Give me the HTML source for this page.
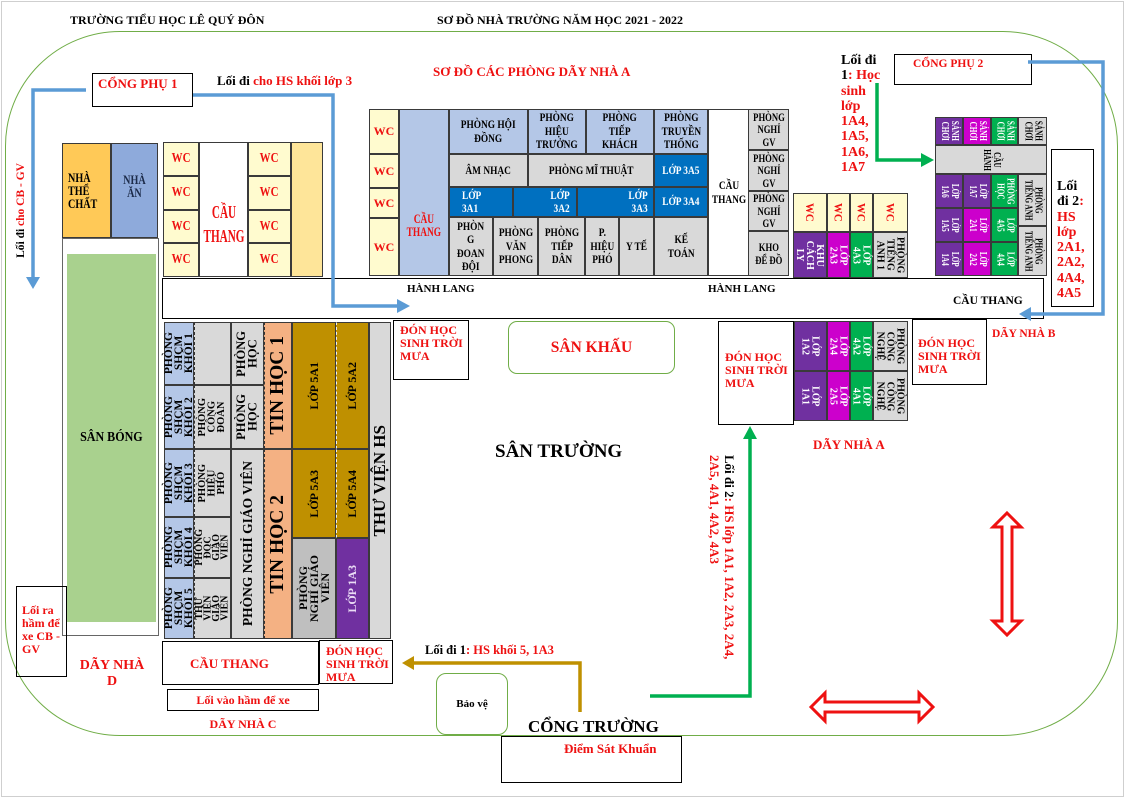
<!DOCTYPE html>
<html><head><meta charset="utf-8">
<style>
body{margin:0;background:#fff}
#p{position:relative;width:1125px;height:798px;overflow:hidden;background:#fff;font-family:"Liberation Serif","DejaVu Serif",serif;font-weight:bold;color:#000}
.b{position:absolute;box-sizing:border-box;border:1px solid #3a3a3a;display:flex;align-items:center;justify-content:center;text-align:center;white-space:nowrap}
.k{border-color:#000}
.t{position:absolute;white-space:nowrap;line-height:1}
.r{color:#ee1111}
.ly{background:#fffbcf}
.lb{background:#b4c7e7}
.g{background:#d9d9d9}
.bl{background:#0070c0;color:#fff}
.pu{background:#7030a0;color:#fff}
.mg{background:#cc00cc;color:#fff}
.gn{background:#00b050;color:#fff}
.go{background:#bf9000}
.sa{background:#f4b183}
.a{font-size:12px;line-height:13.5px}
.cx{display:inline-block;transform:scaleX(.78)}
.v{writing-mode:vertical-rl;font-size:11px;line-height:10px;transform:scaleY(.9)}
.vb{writing-mode:vertical-rl;font-size:10px;line-height:10px;transform:scaleY(.72)}
.u{writing-mode:vertical-rl;transform:rotate(180deg)}
</style></head><body><div id="p">

<!-- frames -->
<div style="position:absolute;left:1px;top:1px;width:1121px;height:794px;border:1px solid #cfcfcf"></div>
<div style="position:absolute;left:5px;top:31px;width:1111px;height:703px;border:1px solid #70ad47;border-radius:115px"></div>

<!-- headers -->
<div class="t" style="left:70px;top:14px;font-size:12px">TRƯỜNG TIỂU HỌC LÊ QUÝ ĐÔN</div>
<div class="t" style="left:437px;top:14px;font-size:12px">SƠ ĐỒ NHÀ TRƯỜNG NĂM HỌC 2021 - 2022</div>
<div class="t r" style="left:433px;top:65px;font-size:13px">SƠ ĐỒ CÁC PHÒNG DÃY NHÀ A</div>

<!-- cong phu 1 -->
<div class="b k" style="left:92px;top:73px;width:101px;height:34px;border-width:1.5px"></div>
<div class="t r" style="left:98px;top:77px;font-size:13px">CỔNG PHỤ 1</div>
<div class="t" style="left:217px;top:74px;font-size:13px">Lối đi <span class="r">cho HS khối lớp 3</span></div>
<div class="t u" style="left:16px;top:163px;font-size:11.5px">Lối đi <span class="r">cho CB - GV</span></div>

<!-- nha the chat / nha an -->
<div class="b" style="left:62px;top:143px;width:49px;height:95px;background:#ffc957;justify-content:flex-start;text-align:left;padding-left:5px;font-size:13px;line-height:13px"><span class="cx" style="transform-origin:left">NHÀ<br>THỂ<br>CHẤT</span></div>
<div class="b" style="left:111px;top:143px;width:47px;height:95px;background:#8eaadb;color:#1c2b4a;font-size:13px;line-height:13px;padding-bottom:10px"><span class="cx">NHÀ<br>ĂN</span></div>
<div class="b" style="left:62px;top:238px;width:97px;height:398px;border-color:#666"></div>
<div class="b" style="left:67px;top:254px;width:89px;height:368px;background:#a9d18e;border:none;font-size:14px"><span class="cx" style="transform:scaleX(.86)">SÂN BÓNG</span></div>

<!-- WC block left -->
<div class="b ly r" style="left:163px;top:142px;width:36px;height:34px;font-size:14px"><span class="cx">WC</span></div>
<div class="b ly r" style="left:163px;top:176px;width:36px;height:34px;font-size:14px"><span class="cx">WC</span></div>
<div class="b ly r" style="left:163px;top:210px;width:36px;height:33px;font-size:14px"><span class="cx">WC</span></div>
<div class="b ly r" style="left:163px;top:243px;width:36px;height:34px;font-size:14px"><span class="cx">WC</span></div>
<div class="b r" style="left:199px;top:142px;width:49px;height:135px;font-size:18px;line-height:24px;padding-top:29px"><span class="cx" style="transform:scaleX(.62)">CẦU<br>THANG</span></div>
<div class="b ly r" style="left:248px;top:142px;width:43px;height:34px;font-size:14px"><span class="cx">WC</span></div>
<div class="b ly r" style="left:248px;top:176px;width:43px;height:34px;font-size:14px"><span class="cx">WC</span></div>
<div class="b ly r" style="left:248px;top:210px;width:43px;height:33px;font-size:14px"><span class="cx">WC</span></div>
<div class="b ly r" style="left:248px;top:243px;width:43px;height:34px;font-size:14px"><span class="cx">WC</span></div>
<div class="b" style="left:291px;top:142px;width:32px;height:135px;background:#fee599"></div>

<!-- corridor -->
<div class="b k" style="left:162px;top:278px;width:882px;height:41px"></div>
<div class="t" style="left:407px;top:283.5px;font-size:11px">HÀNH LANG</div>
<div class="t" style="left:708px;top:283.5px;font-size:11px">HÀNH LANG</div>
<div class="t" style="left:953px;top:296px;font-size:11.5px">CẦU THANG</div>

<!-- building A main -->
<div class="b ly r" style="left:369px;top:109px;width:30px;height:45px;font-size:12px">WC</div>
<div class="b ly r" style="left:369px;top:154px;width:30px;height:34px;font-size:12px">WC</div>
<div class="b ly r" style="left:369px;top:188px;width:30px;height:30px;font-size:12px">WC</div>
<div class="b ly r" style="left:369px;top:218px;width:30px;height:58px;font-size:12px">WC</div>
<div class="b lb r" style="left:399px;top:109px;width:50px;height:167px;padding-top:65px;font-size:13px;line-height:13px"><span class="cx" style="transform:scaleX(.72)">CẦU<br>THANG</span></div>

<div class="b lb a" style="left:449px;top:109px;width:79px;height:45px"><span class="cx">PHÒNG HỘI<br>ĐỒNG</span></div>
<div class="b lb a" style="left:528px;top:109px;width:58px;height:45px"><span class="cx">PHÒNG<br>HIỆU<br>TRƯỞNG</span></div>
<div class="b lb a" style="left:586px;top:109px;width:68px;height:45px"><span class="cx">PHÒNG<br>TIẾP<br>KHÁCH</span></div>
<div class="b lb a" style="left:654px;top:109px;width:54px;height:45px"><span class="cx">PHÒNG<br>TRUYỀN<br>THỐNG</span></div>

<div class="b g a" style="left:449px;top:154px;width:79px;height:33px"><span class="cx">ÂM NHẠC</span></div>
<div class="b g a" style="left:528px;top:154px;width:126px;height:33px"><span class="cx">PHÒNG MĨ THUẬT</span></div>
<div class="b bl a" style="left:654px;top:154px;width:54px;height:33px"><span class="cx">LỚP 3A5</span></div>

<div class="b bl a" style="left:449px;top:187px;width:64px;height:30px;justify-content:flex-start;padding-left:12px;text-align:left"><span class="cx" style="transform-origin:left">LỚP<br>3A1</span></div>
<div class="b bl a" style="left:513px;top:187px;width:64px;height:30px;justify-content:flex-end;padding-right:6px;text-align:right"><span class="cx" style="transform-origin:right">LỚP<br>3A2</span></div>
<div class="b bl a" style="left:577px;top:187px;width:77px;height:30px;justify-content:flex-end;padding-right:5px;text-align:right"><span class="cx" style="transform-origin:right">LỚP<br>3A3</span></div>
<div class="b bl a" style="left:654px;top:187px;width:54px;height:30px"><span class="cx">LỚP 3A4</span></div>

<div class="b g a" style="left:449px;top:217px;width:44px;height:59px;line-height:13.5px"><span class="cx">PHÒN<br>G<br>ĐOAN<br>ĐỘI</span></div>
<div class="b g a" style="left:493px;top:217px;width:45px;height:59px"><span class="cx">PHÒNG<br>VĂN<br>PHONG</span></div>
<div class="b g a" style="left:538px;top:217px;width:47px;height:59px"><span class="cx">PHÒNG<br>TIẾP<br>DÂN</span></div>
<div class="b g a" style="left:585px;top:217px;width:34px;height:59px"><span class="cx">P.<br>HIỆU<br>PHÓ</span></div>
<div class="b g a" style="left:619px;top:217px;width:35px;height:59px"><span class="cx">Y TẾ</span></div>
<div class="b g a" style="left:654px;top:217px;width:54px;height:59px"><span class="cx">KẾ<br>TOÁN</span></div>

<div class="b a" style="left:708px;top:109px;width:41px;height:167px"><span class="cx">CẦU<br>THANG</span></div>
<div class="b g a" style="left:748px;top:109px;width:41px;height:41px;line-height:12.5px"><span class="cx" style="transform:scaleX(.72)">PHÒNG<br>NGHỈ<br>GV</span></div>
<div class="b g a" style="left:748px;top:150px;width:41px;height:41px;line-height:12.5px"><span class="cx" style="transform:scaleX(.72)">PHÒNG<br>NGHỈ<br>GV</span></div>
<div class="b g a" style="left:748px;top:191px;width:41px;height:40px;line-height:12.5px"><span class="cx" style="transform:scaleX(.72)">PHÒNG<br>NGHỈ<br>GV</span></div>
<div class="b g a" style="left:748px;top:231px;width:41px;height:45px;line-height:12.5px"><span class="cx" style="transform:scaleX(.72)">KHO<br>ĐỂ ĐỒ</span></div>

<!-- building A right upper -->
<div class="b ly r" style="left:793px;top:193px;width:34px;height:39px"><span class="v" style="font-size:12px">WC</span></div>
<div class="b ly r" style="left:827px;top:193px;width:23px;height:39px"><span class="v" style="font-size:12px">WC</span></div>
<div class="b ly r" style="left:850px;top:193px;width:23px;height:39px"><span class="v" style="font-size:12px">WC</span></div>
<div class="b ly r" style="left:873px;top:193px;width:35px;height:39px"><span class="v" style="font-size:12px">WC</span></div>
<div class="b pu" style="left:793px;top:232px;width:34px;height:46px"><span class="v">KHU<br>CÁCH<br>LY</span></div>
<div class="b mg" style="left:827px;top:232px;width:23px;height:46px"><span class="v">LỚP<br>2A3</span></div>
<div class="b gn" style="left:850px;top:232px;width:23px;height:46px"><span class="v">LỚP<br>4A3</span></div>
<div class="b g" style="left:873px;top:232px;width:35px;height:46px"><span class="v">PHÒNG<br>TIẾNG<br>ANH 1</span></div>

<!-- building A right lower -->
<div class="b pu" style="left:794px;top:321px;width:33px;height:50px"><span class="v">LỚP<br>1A2</span></div>
<div class="b pu" style="left:794px;top:371px;width:33px;height:50px"><span class="v">LỚP<br>1A1</span></div>
<div class="b mg" style="left:827px;top:321px;width:23px;height:50px"><span class="v">LỚP<br>2A4</span></div>
<div class="b mg" style="left:827px;top:371px;width:23px;height:50px"><span class="v">LỚP<br>2A5</span></div>
<div class="b gn" style="left:850px;top:321px;width:23px;height:50px"><span class="v">LỚP<br>4A2</span></div>
<div class="b gn" style="left:850px;top:371px;width:23px;height:50px"><span class="v">LỚP<br>4A1</span></div>
<div class="b g" style="left:873px;top:321px;width:35px;height:50px"><span class="v">PHÒNG<br>CÔNG<br>NGHỆ</span></div>
<div class="b g" style="left:873px;top:371px;width:35px;height:50px"><span class="v">PHÒNG<br>CÔNG<br>NGHỆ</span></div>

<div class="b k" style="left:718px;top:321px;width:76px;height:104px"></div>
<div class="t r" style="left:725px;top:350.5px;font-size:12px;line-height:13px">ĐÓN HỌC<br>SINH TRỜI<br>MƯA</div>
<div class="b k" style="left:912px;top:319px;width:75px;height:66px"></div>
<div class="t r" style="left:918px;top:336.5px;font-size:12px;line-height:13px">ĐÓN HỌC<br>SINH TRỜI<br>MƯA</div>
<div class="t r" style="left:992px;top:329px;font-size:11.5px">DÃY NHÀ B</div>
<div class="t r" style="left:813px;top:438px;font-size:13px">DÃY NHÀ A</div>

<!-- building B -->
<div class="b pu" style="left:935px;top:117px;width:28px;height:28px"><span class="vb">SẢNH<br>CHƠI</span></div>
<div class="b mg" style="left:963px;top:117px;width:28px;height:28px"><span class="vb">SẢNH<br>CHƠI</span></div>
<div class="b gn" style="left:991px;top:117px;width:27px;height:28px"><span class="vb">SẢNH<br>CHƠI</span></div>
<div class="b g" style="left:1018px;top:117px;width:29px;height:28px"><span class="vb">SẢNH<br>CHƠI</span></div>
<div class="b g" style="left:935px;top:145px;width:112px;height:29px"><span class="vb">CẦU<br>HÀNH</span></div>
<div class="b pu" style="left:935px;top:174px;width:28px;height:34px"><span class="vb">LỚP<br>1A6</span></div>
<div class="b pu" style="left:963px;top:174px;width:28px;height:34px"><span class="vb">LỚP<br>1A7</span></div>
<div class="b gn" style="left:991px;top:174px;width:27px;height:34px"><span class="vb">PHÒNG<br>HỌC</span></div>
<div class="b pu" style="left:935px;top:208px;width:28px;height:34px"><span class="vb">LỚP<br>1A5</span></div>
<div class="b mg" style="left:963px;top:208px;width:28px;height:34px"><span class="vb">LỚP<br>2A1</span></div>
<div class="b gn" style="left:991px;top:208px;width:27px;height:34px"><span class="vb">LỚP<br>4A5</span></div>
<div class="b pu" style="left:935px;top:242px;width:28px;height:34px"><span class="vb">LỚP<br>1A4</span></div>
<div class="b mg" style="left:963px;top:242px;width:28px;height:34px"><span class="vb">LỚP<br>2A2</span></div>
<div class="b gn" style="left:991px;top:242px;width:27px;height:34px"><span class="vb">LỚP<br>4A4</span></div>
<div class="b g" style="left:1018px;top:174px;width:29px;height:52px"><span class="vb">PHÒNG<br>TIẾNG ANH</span></div>
<div class="b g" style="left:1018px;top:226px;width:29px;height:50px"><span class="vb">PHÒNG<br>TIẾNG ANH</span></div>

<!-- right texts -->
<div class="t" style="left:841px;top:53px;font-size:14px;line-height:15.3px">Lối đi<br>1<span class="r">: Học<br>sinh<br>lớp<br>1A4,<br>1A5,<br>1A6,<br>1A7</span></div>
<div class="b k" style="left:894px;top:54px;width:138px;height:31px"></div>
<div class="t r" style="left:913px;top:59px;font-size:11.5px">CỔNG PHỤ 2</div>
<div class="b k" style="left:1051px;top:149px;width:43px;height:158px"></div>
<div class="t" style="left:1057px;top:179px;font-size:14px;line-height:15.3px">Lối<br>đi 2<span class="r">:<br>HS<br>lớp<br>2A1,<br>2A2,<br>4A4,<br>4A5</span></div>

<!-- building C -->
<div class="b lb" style="left:164px;top:322px;width:30px;height:63px"><span class="u" style="font-size:11.5px;line-height:10px">PHÒNG<br>SHCM<br>KHỐI 1</span></div>
<div class="b lb" style="left:164px;top:385px;width:30px;height:64px"><span class="u" style="font-size:11.5px;line-height:10px">PHÒNG<br>SHCM<br>KHỐI 2</span></div>
<div class="b lb" style="left:164px;top:449px;width:30px;height:68px"><span class="u" style="font-size:11.5px;line-height:10px">PHÒNG<br>SHCM<br>KHỐI 3</span></div>
<div class="b lb" style="left:164px;top:517px;width:30px;height:61px"><span class="u" style="font-size:11.5px;line-height:10px">PHÒNG<br>SHCM<br>KHỐI 4</span></div>
<div class="b lb" style="left:164px;top:578px;width:30px;height:61px"><span class="u" style="font-size:11.5px;line-height:10px">PHÒNG<br>SHCM<br>KHỐI 5</span></div>
<div class="b g" style="left:194px;top:322px;width:37px;height:63px;border-left:1px dashed #333"></div>
<div class="b g" style="left:194px;top:385px;width:37px;height:64px;border-left:1px dashed #333"><span class="u" style="font-size:10.5px;line-height:9.5px">PHÒNG<br>CÔNG<br>ĐOÀN</span></div>
<div class="b g" style="left:194px;top:449px;width:37px;height:68px;border-left:1px dashed #333"><span class="u" style="font-size:10.5px;line-height:9.5px">PHÒNG<br>HIỆU<br>PHÓ</span></div>
<div class="b g" style="left:194px;top:517px;width:37px;height:61px;border-left:1px dashed #333"><span class="u" style="font-size:10px;line-height:8.5px">PHÒNG<br>ĐỌC<br>GIÁO<br>VIÊN</span></div>
<div class="b g" style="left:194px;top:578px;width:37px;height:61px;border-left:1px dashed #333"><span class="u" style="font-size:10px;line-height:8.5px">THƯ<br>VIỆN<br>GIÁO<br>VIÊN</span></div>
<div class="b g" style="left:231px;top:322px;width:33px;height:63px"><span class="u" style="font-size:12.5px;line-height:11.5px">PHÒNG<br>HỌC</span></div>
<div class="b g" style="left:231px;top:385px;width:33px;height:64px"><span class="u" style="font-size:12.5px;line-height:11.5px">PHÒNG<br>HỌC</span></div>
<div class="b g" style="left:231px;top:449px;width:33px;height:190px"><span class="u" style="font-size:13.5px">PHÒNG NGHỈ GIÁO VIÊN</span></div>
<div class="b sa" style="left:264px;top:322px;width:28px;height:127px;border-left:1px dashed #333"><span class="u" style="font-size:19.5px">TIN HỌC 1</span></div>
<div class="b sa" style="left:264px;top:449px;width:28px;height:190px;border-left:1px dashed #333"><span class="u" style="font-size:19.5px">TIN HỌC 2</span></div>
<div class="b go" style="left:292px;top:322px;width:44px;height:127px"><span class="u" style="font-size:12px">LỚP 5A1</span></div>
<div class="b go" style="left:336px;top:322px;width:33px;height:127px;border-left:1px dashed #eee"><span class="u" style="font-size:12px">LỚP 5A2</span></div>
<div class="b go" style="left:292px;top:449px;width:44px;height:89px"><span class="u" style="font-size:12px">LỚP 5A3</span></div>
<div class="b go" style="left:336px;top:449px;width:33px;height:89px;border-left:1px dashed #eee"><span class="u" style="font-size:12px">LỚP 5A4</span></div>
<div class="b" style="left:292px;top:538px;width:44px;height:101px;background:#bfbfbf"><span class="u" style="font-size:12px;line-height:11px">PHÒNG<br>NGHỈ GIÁO<br>VIÊN</span></div>
<div class="b pu" style="left:336px;top:538px;width:33px;height:101px;color:#eadcf5"><span class="u" style="font-size:12px">LỚP 1A3</span></div>
<div class="b g" style="left:369px;top:322px;width:22px;height:317px"><span class="u" style="font-size:17px">THƯ VIỆN HS</span></div>

<!-- bottom left -->
<div class="b k" style="left:16px;top:586px;width:51px;height:91px"></div>
<div class="t r" style="left:22px;top:603.5px;font-size:12px;line-height:13px">Lối ra<br>hầm để<br>xe CB -<br>GV</div>
<div class="t r" style="left:72px;top:658px;width:80px;text-align:center;font-size:14px;line-height:16px">DÃY NHÀ<br>D</div>
<div class="b k" style="left:162px;top:641px;width:157px;height:44px"></div>
<div class="t r" style="left:190px;top:656.5px;font-size:13px">CẦU THANG</div>
<div class="b k" style="left:319px;top:640px;width:74px;height:44px"></div>
<div class="t r" style="left:326px;top:644.5px;font-size:12px;line-height:13px">ĐÓN HỌC<br>SINH TRỜI<br>MƯA</div>
<div class="b k r" style="left:167px;top:689px;width:152px;height:22px;font-size:12px">Lối vào hầm để xe</div>
<div class="t r" style="left:193px;top:718px;width:100px;text-align:center;font-size:12px">DÃY NHÀ C</div>

<!-- middle -->
<div class="b k" style="left:393px;top:320px;width:76px;height:60px"></div>
<div class="t r" style="left:400px;top:323.5px;font-size:12px;line-height:13px">ĐÓN HỌC<br>SINH TRỜI<br>MƯA</div>
<div class="b r" style="left:508px;top:321px;width:167px;height:53px;border:1.2px solid #70ad47;border-radius:9px;font-size:15.5px">SÂN KHẤU</div>
<div class="t" style="left:495px;top:441.5px;font-size:19px">SÂN TRƯỜNG</div>
<div class="t" style="left:425px;top:644px;font-size:12.5px">Lối đi 1<span class="r">: HS khối 5, 1A3</span></div>
<div class="b" style="left:436px;top:673px;width:72px;height:62px;border:1.2px solid #70ad47;border-radius:10px;font-size:11px">Bảo vệ</div>
<div class="t" style="left:528px;top:717.5px;font-size:17px">CỔNG TRƯỜNG</div>
<div class="b k" style="left:501px;top:736px;width:181px;height:47px"></div>
<div class="t r" style="left:564px;top:741.5px;font-size:13px">Điểm Sát Khuẩn</div>

<div class="t" style="left:707px;top:455px;font-size:13px;line-height:15px;writing-mode:vertical-rl">Lối đi 2<span class="r">: HS lớp 1A1, 1A2, 2A3, 2A4,<br>2A5, 4A1, 4A2, 4A3</span></div>

<!-- connectors -->
<svg width="1125" height="798" style="position:absolute;left:0;top:0" xmlns="http://www.w3.org/2000/svg">
<g fill="none" stroke="#5b9bd5" stroke-width="3.5">
<polyline points="86,90 33,90 33,278"/>
<polyline points="193,95 333,95 333,306 398,306"/>
<polyline points="1028,62 1103,62 1103,314 1030,314"/>
</g>
<g fill="#5b9bd5">
<polygon points="26,277 40,277 33,289"/>
<polygon points="397,299 397,313 410,306"/>
<polygon points="1031,307 1031,321 1019,314"/>
</g>
<g fill="none" stroke="#00b050" stroke-width="3.5">
<polyline points="877,83 877,160 922,160"/>
<polyline points="650,696 750,696 750,438"/>
</g>
<g fill="#00b050">
<polygon points="921,153 921,167 934,160"/>
<polygon points="743,439 757,439 750,426"/>
</g>
<polyline points="580,712 580,663 413,663" fill="none" stroke="#bf9000" stroke-width="3.5"/>
<polygon points="414,656 414,670 402,663" fill="#bf9000"/>
<g fill="#fff" stroke="#ee1111" stroke-width="3" stroke-linejoin="miter">
<polygon points="1007,513 1021,527 1012,527 1012,621 1021,621 1007,635 993,621 1002,621 1002,527 993,527"/>
<polygon points="811,707 825,693 825,702 919,702 919,693 933,707 919,721 919,712 825,712 825,721"/>
</g>
</svg>

</div></body></html>
